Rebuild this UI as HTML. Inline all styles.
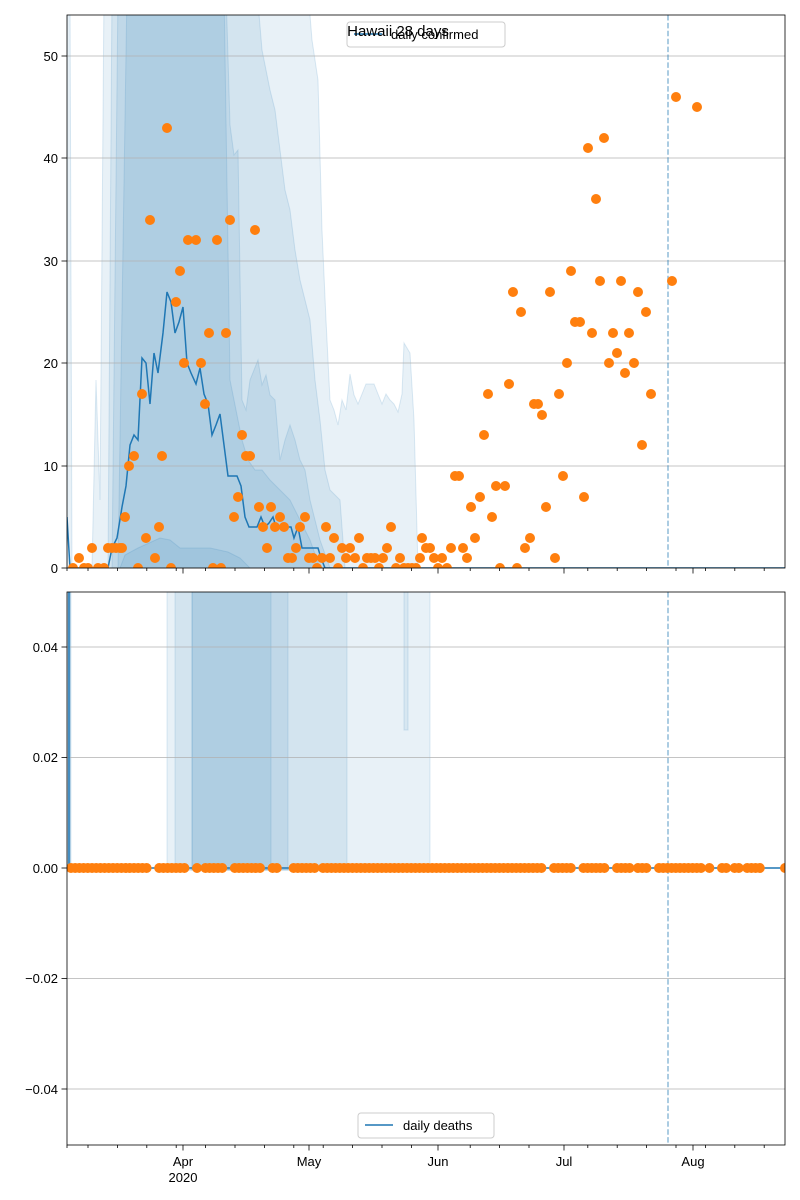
<!DOCTYPE html>
<html><head><meta charset="utf-8"><style>
html,body{margin:0;padding:0;background:#fff;width:800px;height:1200px;overflow:hidden}
svg{display:block;font-family:"Liberation Sans","DejaVu Sans",sans-serif}
</style></head><body>
<svg id="s" width="800" height="1200" viewBox="0 0 800 1200" xmlns="http://www.w3.org/2000/svg">
<rect width="800" height="1200" fill="#fff"/>
<defs>
<clipPath id="c1"><rect x="67" y="15" width="718" height="553"/></clipPath>
<clipPath id="c2"><rect x="67" y="592" width="718" height="553"/></clipPath>
</defs>
<!-- TOP bands -->
<g clip-path="url(#c1)" fill="#1f77b4" stroke="#1f77b4" stroke-opacity="0.15" stroke-width="1">
<polygon fill-opacity="0.1" points="67,-10 70,-10 72,568 92,568 96,380 100,500 104,-10 308,-10 312,40 318,80 322,230 326,320 330,400 334,410 338,425 342,400 346,410 350,374 354,395 358,404 362,394 366,384 370,384 374,384 378,394 382,404 386,394 390,400 394,404 398,412 402,394 404,343 410,353 414,420 418,568 67,568"/>
<polygon fill-opacity="0.1" points="108,568 112,-10 257,-10 262,50 266,70 270,90 275,110 280,150 285,190 290,210 295,250 300,280 305,300 310,320 315,380 320,420 325,470 330,490 340,500 345,568"/>
<polygon fill-opacity="0.1" points="112,568 118,-10 226,-10 230,125 234,155 238,150 242,400 246,410 250,380 254,370 258,360 262,385 266,375 270,395 275,400 280,460 285,440 290,425 295,440 300,460 305,470 310,500 315,520 320,540 330,568"/>
<polygon fill-opacity="0.1" points="118,568 127,-10 224,-10 226,120 230,380 234,400 238,420 242,440 248,460 255,470 262,470 270,480 280,490 290,500 300,520 310,540 320,568"/>
<polygon fill-opacity="0.1" points="120,568 125,555 138,548 160,538 170,540 180,548 210,548 228,552 240,558 250,568"/>
</g>
<!-- grid top -->
<g stroke="#b0b0b0" stroke-width="0.8">
<line x1="67" x2="785" y1="466" y2="466"/><line x1="67" x2="785" y1="363" y2="363"/>
<line x1="67" x2="785" y1="261" y2="261"/><line x1="67" x2="785" y1="158" y2="158"/>
<line x1="67" x2="785" y1="56" y2="56"/><line x1="67" x2="785" y1="568" y2="568"/>
</g>
<line x1="668" x2="668" y1="15" y2="568" stroke="#1f77b4" stroke-opacity="0.5" stroke-width="1.5" stroke-dasharray="5.5,2.4"/>
<polyline clip-path="url(#c1)" fill="none" stroke="#1f77b4" stroke-width="1.5" points="67,517 70,568 108,568 112,548 117,538 122,507 126,486 130,445 134,435 138,440 142,358 146,363 150,404 154,353 158,373 163,333 167,292 171,302 175,333 179,322 183,307 187,363 191,373 196,384 200,368 204,394 208,404 212,435 216,425 220,414 224,445 228,476 237,476 241,486 245,517 249,527 257,527 261,517 265,527 269,523 273,517 277,530 281,527 291,527 294,538 298,527 302,548 318,548 321,558 325,568 785,568"/>
<g id="d1" fill="#ff7f0e" clip-path="url(#c1)"></g>
<!-- BOTTOM -->
<g clip-path="url(#c2)" fill="#1f77b4" stroke="#1f77b4" stroke-opacity="0.15">
<rect x="167" y="590" width="263" height="280" fill-opacity="0.1"/>
<rect x="175" y="590" width="172" height="280" fill-opacity="0.1"/>
<rect x="192" y="590" width="96" height="280" fill-opacity="0.1"/>
<rect x="192" y="590" width="79" height="280" fill-opacity="0.1"/>
<rect x="404" y="590" width="4" height="140" fill-opacity="0.08"/>
<rect x="67" y="590" width="4" height="278" fill-opacity="0.3"/>
</g>
<g stroke="#b0b0b0" stroke-width="0.8">
<line x1="67" x2="785" y1="647" y2="647"/><line x1="67" x2="785" y1="757.5" y2="757.5"/>
<line x1="67" x2="785" y1="868" y2="868"/><line x1="67" x2="785" y1="978.5" y2="978.5"/>
<line x1="67" x2="785" y1="1089" y2="1089"/>
</g>
<line x1="668" x2="668" y1="592" y2="1145" stroke="#1f77b4" stroke-opacity="0.5" stroke-width="1.5" stroke-dasharray="5.5,2.4"/>
<line x1="69" x2="69" y1="592" y2="868" stroke="#1f77b4" stroke-width="1.5"/>
<line x1="67" x2="785" y1="868" y2="868" stroke="#1f77b4" stroke-width="1.5"/>
<g id="d2" fill="#ff7f0e" clip-path="url(#c2)"></g>
<!-- axes frames -->
<rect x="67" y="15" width="718" height="553" fill="none" stroke="#000" stroke-width="0.8"/>
<rect x="67" y="592" width="718" height="553" fill="none" stroke="#000" stroke-width="0.8"/>
<g id="ticks" stroke="#000" stroke-width="0.8"></g>
<!-- y labels -->
<g font-size="13" text-anchor="end" fill="#000">
<text x="58" y="573">0</text><text x="58" y="471">10</text><text x="58" y="368">20</text>
<text x="58" y="266">30</text><text x="58" y="163">40</text><text x="58" y="61">50</text>
<text x="58" y="652">0.04</text><text x="58" y="762">0.02</text><text x="58" y="873">0.00</text>
<text x="58" y="983">−0.02</text><text x="58" y="1094">−0.04</text>
</g>
<g font-size="13" text-anchor="middle" fill="#000">
<text x="183" y="1166">Apr</text><text x="183" y="1182">2020</text>
<text x="309" y="1166">May</text><text x="438" y="1166">Jun</text>
<text x="564" y="1166">Jul</text><text x="693" y="1166">Aug</text>
</g>
<!-- legends -->
<rect x="347" y="22" width="158" height="25" rx="3" fill="#fff" fill-opacity="0.8" stroke="#ccc"/>
<line x1="354" x2="382" y1="34" y2="34" stroke="#1f77b4" stroke-width="1.5"/>
<text x="391" y="39" font-size="13">daily confirmed</text>
<text x="398" y="36" font-size="15" text-anchor="middle">Hawaii 28 days</text>
<rect x="358" y="1113" width="136" height="25" rx="3" fill="#fff" fill-opacity="0.8" stroke="#ccc"/>
<line x1="365" x2="393" y1="1125" y2="1125" stroke="#1f77b4" stroke-width="1.5"/>
<text x="403" y="1130" font-size="13">daily deaths</text>
</svg>
<script>
var NS="http://www.w3.org/2000/svg";
function c(g,x,y){var e=document.createElementNS(NS,"circle");e.setAttribute("cx",x);e.setAttribute("cy",y);e.setAttribute("r",5);g.appendChild(e);}
var p=[73,568,79,558,84,568,88,568,92,548,98,568,104,568,108,548,112,548,116,548,120,548,122,548,125,517,129,466,134,456,138,568,142,394,146,538,150,220,155,558,159,527,162,456,167,128,171,568,176,302,180,271,184,363,188,240,196,240,201,363,205,404,209,333,213,568,217,240,221,568,226,333,230,220,234,517,238,497,242,435,246,456,250,456,255,230,259,507,263,527,267,548,271,507,275,527,280,517,284,527,288,558,292,558,296,548,300,527,305,517,309,558,313,558,317,568,322,558,326,527,330,558,334,538,338,568,342,548,346,558,350,548,355,558,359,538,363,568,367,558,371,558,375,558,379,568,383,558,387,548,391,527,396,568,400,558,404,568,408,568,412,568,416,568,420,558,422,538,426,548,430,548,434,558,438,568,442,558,447,568,451,548,455,476,459,476,463,548,467,558,471,507,475,538,480,497,484,435,488,394,492,517,496,486,500,568,505,486,509,384,513,292,517,568,521,312,525,548,530,538,534,404,538,404,542,415,546,507,550,292,555,558,559,394,563,476,567,363,571,271,575,322,580,322,584,497,588,148,592,333,596,199,600,281,604,138,609,363,613,333,617,353,621,281,625,373,629,333,634,363,638,292,642,445,646,312,651,394,672,281,676,97,697,107];
var g1=document.getElementById("d1");for(var i=0;i<p.length;i+=2)c(g1,p[i],p[i+1]);
var gaps=[[148,158],[185,193],[199,205],[225,232],[262,270],[280,292],[316,320],[545,550],[573,580],[608,613],[630,635],[650,657],[676,680],[704,707],[713,718],[729,733],[739,745],[763,784]];
var g2=document.getElementById("d2");
for(var x=71;x<765;x+=4.2){var ok=true;for(var j=0;j<gaps.length;j++)if(x>gaps[j][0]&&x<gaps[j][1])ok=false;if(ok)c(g2,x.toFixed(1),868);}
c(g2,785,868);
var t=document.getElementById("ticks");
function ln(x1,y1,x2,y2){var e=document.createElementNS(NS,"line");e.setAttribute("x1",x1);e.setAttribute("y1",y1);e.setAttribute("x2",x2);e.setAttribute("y2",y2);t.appendChild(e);}
[183,309,438,564,693].forEach(function(x){ln(x,568,x,573.5);ln(x,1145,x,1150.5);});
for(var x=88;x<785;x+=29.4){var near=[183,309,438,564,693].some(function(m){return Math.abs(m-x)<6});if(!near){ln(x,568,x,571);ln(x,1145,x,1148);}}
ln(67,568,67,571);ln(67,1145,67,1148);
[568,466,363,261,158,56,647,757.5,868,978.5,1089].forEach(function(y){ln(61.5,y,67,y);});
</script>
</body></html>
